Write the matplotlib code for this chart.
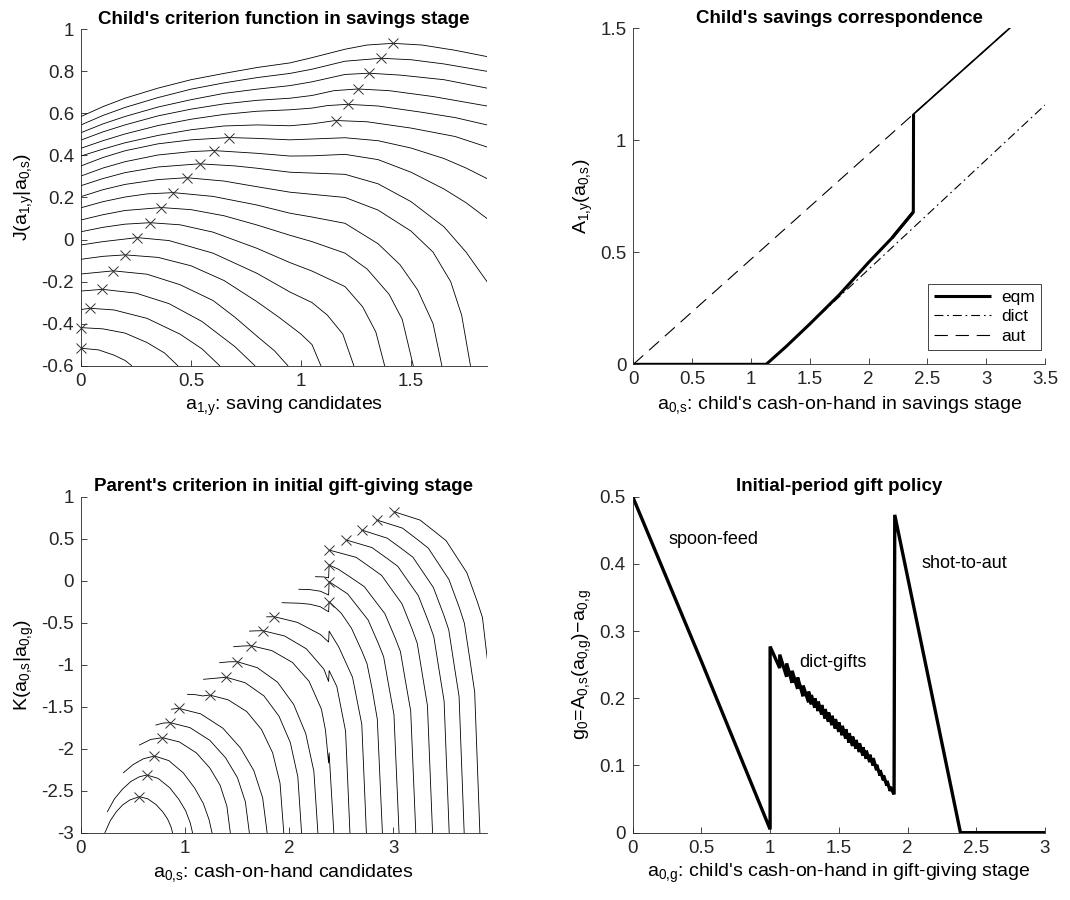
import numpy as np
import matplotlib.pyplot as plt
from matplotlib.ticker import FuncFormatter

plt.rcParams['font.family'] = ['Liberation Sans', 'DejaVu Sans']
plt.rcParams['mathtext.fontset'] = 'custom'
plt.rcParams['mathtext.rm'] = 'Liberation Sans'
plt.rcParams['axes.unicode_minus'] = False

AXC = '#262626'

# --- child's criterion J(a_1y | a_0s), one curve per a_0s ---
j_x = [
    [0, .1, .2, .35, .5, .65, .8, .95, 1.05, 1.2, 1.3, 1.417, 1.55, 1.7, 1.845],
    [0, .1, .2, .35, .5, .65, .8, .95, 1.05, 1.2, 1.364, 1.5, 1.65, 1.845],
    [0, .1, .2, .35, .5, .65, .8, .95, 1.05, 1.2, 1.308, 1.45, 1.65, 1.845],
    [0, .1, .2, .35, .5, .65, .8, .95, 1.05, 1.15, 1.258, 1.4, 1.6, 1.845],
    [0, .1, .2, .35, .5, .65, .8, .95, 1.05, 1.12, 1.212, 1.35, 1.55, 1.7, 1.845],
    [0, .1, .2, .35, .5, .65, .8, .95, 1.05, 1.157, 1.3, 1.5, 1.7, 1.845],
    [0, .1, .2, .35, .5, .671, .8, .95, 1.05, 1.2, 1.35, 1.5, 1.65, 1.75, 1.845],
    [0, .1, .2, .35, .5, .603, .8, .95, 1.05, 1.2, 1.35, 1.5, 1.65, 1.75, 1.845],
    [0, .1, .2, .35, .539, .7, .8, .95, 1.05, 1.2, 1.35, 1.5, 1.65, 1.75, 1.845],
    [0, .1, .2, .35, .48, .65, .8, .95, 1.05, 1.2, 1.35, 1.5, 1.6, 1.68, 1.73, 1.77],
    [0, .1, .2, .3, .42, .6, .8, .95, 1.05, 1.2, 1.35, 1.45, 1.53, 1.6, 1.64],
    [0, .1, .2, .365, .5, .65, .8, .95, 1.05, 1.2, 1.3, 1.4, 1.46, 1.51],
    [0, .1, .2, .314, .45, .6, .8, .95, 1.05, 1.2, 1.28, 1.34, 1.38],
    [0, .1, .256, .4, .6, .8, .95, 1.05, 1.12, 1.19, 1.24],
    [0, .1, .2, .35, .5, .65, .8, .9, 1.0, 1.05, 1.09],
    [0, .147, .3, .45, .6, .7, .8, .88, .94],
    [0, .097, .25, .4, .55, .7, .79],
    [0, .041, .15, .3, .45, .55, .63],
    [0, .1, .2, .3, .38, .44],
    [0, .08, .15, .2, .23],
]
j_y = [
    [.585, .632, .672, .72, .76, .79, .818, .84, .865, .905, .925, .933, .925, .9, .87],
    [.545, .59, .628, .675, .715, .745, .77, .79, .81, .848, .862, .855, .835, .80],
    [.508, .55, .585, .63, .665, .695, .715, .732, .75, .785, .791, .782, .76, .72],
    [.473, .512, .545, .588, .62, .645, .662, .672, .685, .708, .716, .708, .68, .635],
    [.434, .47, .502, .542, .572, .595, .61, .617, .625, .637, .643, .635, .605, .58, .545],
    [.397, .43, .46, .495, .522, .54, .545, .541, .55, .566, .56, .53, .49, .44],
    [.35, .39, .422, .455, .474, .485, .481, .474, .478, .484, .47, .435, .385, .34, .29],
    [.302, .34, .37, .402, .418, .423, .41, .397, .398, .405, .38, .32, .24, .175, .10],
    [.256, .29, .318, .345, .36, .35, .339, .32, .316, .31, .265, .18, .06, -.06, -.2],
    [.204, .237, .262, .285, .294, .278, .251, .225, .215, .2, .14, .04, -.06, -.2, -.36, -.6],
    [.151, .18, .202, .217, .223, .205, .164, .125, .107, .077, -.02, -.12, -.24, -.4, -.6],
    [.093, .118, .138, .152, .142, .113, .069, .02, -.01, -.065, -.14, -.26, -.38, -.6],
    [.037, .058, .073, .08, .07, .035, -.042, -.11, -.15, -.224, -.32, -.44, -.6],
    [-.026, -.01, .009, -.005, -.065, -.161, -.25, -.3, -.36, -.45, -.6],
    [-.094, -.08, -.073, -.085, -.125, -.195, -.296, -.37, -.45, -.5, -.6],
    [-.164, -.149, -.165, -.215, -.29, -.37, -.46, -.53, -.6],
    [-.245, -.237, -.255, -.305, -.39, -.51, -.6],
    [-.333, -.327, -.335, -.375, -.45, -.52, -.6],
    [-.419, -.425, -.445, -.49, -.54, -.6],
    [-.517, -.525, -.55, -.575, -.6],
]
j_peak_x = [1.417, 1.364, 1.308, 1.258, 1.212, 1.157, .671, .603, .539, .48,
            .42, .365, .314, .256, .2, .147, .097, .041, 0, 0]
j_peak_y = [.933, .862, .791, .716, .643, .566, .485, .423, .36, .294,
            .223, .152, .08, .009, -.073, -.149, -.237, -.327, -.419, -.517]

# --- savings correspondence (jump at index 7 -> 8) ---
eqm_x = [0, 1.13, 1.3, 1.5, 1.75, 2.0, 2.2, 2.38, 2.382, 3.5]
eqm_y = [0, 0, .08, .18, .31, .455, .565, .68, 1.117, 1.642]
dict_x = [1.134, 3.5]
dict_y = [0, 1.158]
aut_x = [0, 3.5]
aut_y = [0, 1.642]

# --- parent's criterion K(a_0s | a_0g), one curve per a_0g ---
k_x = [
    [.23, .28, .34, .4, .47, .562, .642, .721, .785, .832, .864, .88],
    [.254, .32, .4, .48, .56, .632, .742, .852, .94, 1.006, 1.05, 1.072],
    [.408, .5, .6, .706, .844, .983, 1.093, 1.176, 1.231, 1.259],
    [.562, .67, .783, .946, 1.109, 1.239, 1.337, 1.402, 1.435],
    [.72, .79, .857, 1.047, 1.238, 1.39, 1.504, 1.58, 1.618],
    [.87, .938, 1.151, 1.364, 1.534, 1.661, 1.746, 1.789],
    [1.024, 1.1, 1.17, 1.236, 1.414, 1.593, 1.735, 1.842, 1.913, 1.949],
    [1.178, 1.3, 1.397, 1.578, 1.759, 1.903, 2.012, 2.084, 2.12],
    [1.333, 1.42, 1.5, 1.694, 1.889, 2.044, 2.16, 2.238, 2.277],
    [1.468, 1.55, 1.635, 1.834, 2.033, 2.192, 2.311, 2.35, 2.38, 2.385, 2.43],
    [1.62, 1.68, 1.747, 1.957, 2.166, 2.334, 2.38, 2.385, 2.459, 2.543, 2.585],
    [1.785, 1.859, 2.08, 2.301, 2.38, 2.385, 2.478, 2.61, 2.699, 2.743],
    [1.933, 2.1, 2.2, 2.3, 2.38, 2.385, 2.501, 2.6, 2.699, 2.749, 2.798, 2.848, 2.897],
    [2.094, 2.2, 2.3, 2.38, 2.385, 2.463, 2.562, 2.661, 2.76, 2.859, 2.909, 2.958, 3.008, 3.057],
    [2.254, 2.33, 2.38, 2.385, 2.476, 2.624, 2.723, 2.822, 2.921, 3.02, 3.07, 3.119, 3.169, 3.218],
    [2.385, 2.645, 2.792, 2.89, 2.987, 3.085, 3.183, 3.232, 3.281, 3.33, 3.379],
    [2.55, 2.797, 2.946, 3.045, 3.143, 3.242, 3.341, 3.391, 3.44, 3.49, 3.539],
    [2.697, 2.944, 3.091, 3.19, 3.289, 3.387, 3.486, 3.535, 3.584, 3.634, 3.683],
    [2.842, 3.09, 3.239, 3.338, 3.437, 3.536, 3.636, 3.685, 3.735, 3.784, 3.834],
    [3.009, 3.259, 3.409, 3.509, 3.609, 3.709, 3.809, 3.859, 3.908],
]
k_y = [
    [-3, -2.86, -2.75, -2.67, -2.61, -2.571, -2.597, -2.665, -2.751, -2.837, -2.927, -3],
    [-2.75, -2.6, -2.48, -2.39, -2.335, -2.313, -2.354, -2.464, -2.602, -2.739, -2.883, -3],
    [-2.286, -2.19, -2.12, -2.087, -2.142, -2.288, -2.47, -2.653, -2.845, -3],
    [-1.956, -1.89, -1.869, -1.92, -2.05, -2.231, -2.435, -2.683, -3],
    [-1.718, -1.695, -1.69, -1.749, -1.9, -2.109, -2.345, -2.633, -3],
    [-1.53, -1.519, -1.586, -1.756, -1.993, -2.26, -2.585, -3],
    [-1.353, -1.357, -1.372, -1.361, -1.418, -1.558, -1.771, -2.049, -2.41, -3],
    [-1.174, -1.16, -1.15, -1.215, -1.372, -1.613, -1.927, -2.334, -3],
    [-.976, -.966, -.964, -1.035, -1.208, -1.473, -1.819, -2.267, -3],
    [-.786, -.778, -.774, -.832, -.974, -1.197, -1.53, -1.78, -2.17, -2.05, -3],
    [-.6, -.597, -.595, -.658, -.811, -1.052, -1.2, -1.07, -1.26, -1.79, -3],
    [-.43, -.429, -.496, -.64, -.73, -.6, -.79, -1.15, -1.71, -3],
    [-.262, -.268, -.28, -.31, -.37, -.25, -.386, -.566, -.836, -.987, -1.287, -1.648, -3],
    [-.102, -.106, -.125, -.17, -.012, -.075, -.156, -.312, -.468, -.75, -.906, -1.25, -1.593, -3],
    [.048, .045, .035, .187, .135, .013, -.071, -.232, -.393, -.682, -.843, -1.197, -1.551, -3],
    [.365, .278, .15, .062, -.106, -.274, -.577, -.745, -1.116, -1.486, -3],
    [.485, .394, .262, .171, -.003, -.177, -.491, -.665, -1.048, -1.432, -3],
    [.604, .506, .373, .28, .099, -.081, -.405, -.585, -.982, -1.378, -3],
    [.723, .626, .485, .388, .202, .016, -.319, -.506, -.915, -1.325, -3],
    [.821, .722, .576, .477, .286, .095, -.249, -.44, -.96],
]
k_peak_x = [.562, .632, .706, .783, .857, .938, 1.236, 1.397, 1.5, 1.635,
            1.747, 1.859, 2.385, 2.385, 2.385, 2.385, 2.55, 2.697, 2.842, 3.009]
k_peak_y = [-2.571, -2.313, -2.087, -1.869, -1.69, -1.519, -1.361, -1.15, -.964, -.774,
            -.595, -.429, -.25, -.012, .187, .365, .485, .604, .723, .821]

# --- initial-period gift policy ---
spoon_x = [0, .5, 1.0]
spoon_y = [.5, .255, .005]
# saw teeth of the dict-gifts branch: position, low point, high point
tooth_x = [1.0, 1.07, 1.12, 1.16, 1.2, 1.24, 1.28,
           1.3, 1.325, 1.35, 1.375, 1.4, 1.425, 1.45, 1.475, 1.5, 1.525,
           1.55, 1.575, 1.6, 1.625, 1.65, 1.675, 1.7, 1.725, 1.75, 1.775,
           1.8, 1.825, 1.85, 1.875]
tooth_bot = [.005, .245, .232, .223, .214, .203, .194,
             .191, .186, .181, .176, .170, .165, .160, .155, .150, .145,
             .140, .134, .129, .125, .120, .115, .110, .105, .100, .093,
             .085, .078, .070, .062]
tooth_top = [.277, .265, .252, .241, .231, .219, .210,
             .205, .200, .195, .190, .184, .179, .174, .169, .164, .159,
             .154, .148, .143, .138, .133, .127, .122, .116, .111, .101,
             .093, .085, .077, .068]
shot_x = [1.902, 1.907, 2.385, 3.0]
shot_y = [.057, .473, 0, 0]


def fmt(v, pos):
    return '%g' % round(v, 6)


def style(ax):
    for s in ['top', 'right']:
        ax.spines[s].set_visible(False)
    for s in ['left', 'bottom']:
        ax.spines[s].set_color(AXC)
        ax.spines[s].set_linewidth(0.6)
    ax.tick_params(direction='in', length=4, width=0.6, colors=AXC,
                   labelsize=13.5, pad=5)
    ax.xaxis.set_major_formatter(FuncFormatter(fmt))
    ax.yaxis.set_major_formatter(FuncFormatter(fmt))


TFS = 13.5
LFS = 14

fig = plt.figure(figsize=(10.7, 9), dpi=100)
ax1 = fig.add_axes([0.0757, 0.5937, 0.3794, 0.3738])
ax2 = fig.add_axes([0.5919, 0.5952, 0.3848, 0.3733])
ax3 = fig.add_axes([0.0757, 0.0748, 0.3792, 0.3733])
ax4 = fig.add_axes([0.5913, 0.0748, 0.3853, 0.3733])

# top left
for xs, ys in zip(j_x, j_y):
    ax1.plot(xs, ys, color='k', lw=0.6)
ax1.plot(j_peak_x, j_peak_y, 'x', color='#333333', ms=7, mew=0.7, clip_on=False)
ax1.set_xlim(0, 1.845)
ax1.set_ylim(-0.6, 1)
ax1.set_xticks([0, 0.5, 1, 1.5])
ax1.set_yticks(np.arange(-0.6, 1.01, 0.2))
ax1.set_title("Child's criterion function in savings stage",
              fontsize=TFS, fontweight='bold', pad=4)
ax1.set_xlabel(r'$\mathregular{a_{1{,}y}}$: saving candidates', fontsize=LFS)
ax1.set_ylabel(r'$\mathregular{J(a_{1{,}y}|a_{0{,}s})}$', fontsize=LFS)
style(ax1)

# top right
ax2.plot(eqm_x[:8], eqm_y[:8], color='k', lw=2.2, label='eqm',
         solid_capstyle='butt')
ax2.plot(eqm_x[6:9], eqm_y[6:9], color='k', lw=2.2, solid_capstyle='butt')
ax2.plot(eqm_x[8:], eqm_y[8:], color='k', lw=1.2)
ax2.plot(dict_x, dict_y, color='k', lw=0.8, dashes=(8, 3.5, 1.5, 3.5),
         label='dict')
ax2.plot(aut_x, aut_y, color='k', lw=0.8, dashes=(12, 7), label='aut')
ax2.set_xlim(0, 3.5)
ax2.set_ylim(0, 1.5)
ax2.set_xticks(np.arange(0, 3.51, 0.5))
ax2.set_yticks([0, 0.5, 1, 1.5])
ax2.set_title("Child's savings correspondence",
              fontsize=TFS, fontweight='bold', pad=4)
ax2.set_xlabel(r"$\mathregular{a_{0{,}s}}$: child's cash-on-hand in savings stage",
               fontsize=LFS)
ax2.set_ylabel(r'$\mathregular{A_{1{,}y}(a_{0{,}s})}$', fontsize=LFS)
leg = ax2.legend(loc='lower right', bbox_to_anchor=(0.991, 0.043),
                 borderaxespad=0, fontsize=12.5, handlelength=3.3,
                 fancybox=False, framealpha=1, labelspacing=0.25,
                 handletextpad=0.6, borderpad=0.35)
leg.get_frame().set_edgecolor(AXC)
leg.get_frame().set_linewidth(0.6)
style(ax2)

# bottom left
for xs, ys in zip(k_x, k_y):
    ax3.plot(xs, ys, color='k', lw=0.6)
ax3.plot(k_peak_x, k_peak_y, 'x', color='#333333', ms=7, mew=0.7)
ax3.set_xlim(0, 3.9)
ax3.set_ylim(-3, 1)
ax3.set_xticks([0, 1, 2, 3])
ax3.set_yticks(np.arange(-3, 1.01, 0.5))
ax3.set_title("Parent's criterion in initial gift-giving stage",
              fontsize=TFS, fontweight='bold', pad=4)
ax3.set_xlabel(r'$\mathregular{a_{0{,}s}}$: cash-on-hand candidates', fontsize=LFS)
ax3.set_ylabel(r'$\mathregular{K(a_{0{,}s}|a_{0{,}g})}$', fontsize=LFS)
style(ax3)

# bottom right: build the gift path from its pieces
gx = list(spoon_x)
gy = list(spoon_y)
for tx, tb, tt in zip(tooth_x, tooth_bot, tooth_top):
    gx += [tx, tx]
    gy += [tb, tt]
gx += shot_x
gy += shot_y
ax4.plot(gx, gy, color='k', lw=2.4, solid_joinstyle='miter')
ax4.text(0.26, 0.436, 'spoon-feed', fontsize=13, va='center')
ax4.text(1.213, 0.254, 'dict-gifts', fontsize=13, va='center')
ax4.text(2.103, 0.401, 'shot-to-aut', fontsize=13, va='center')
ax4.set_xlim(0, 3)
ax4.set_ylim(0, 0.5)
ax4.set_xticks(np.arange(0, 3.01, 0.5))
ax4.set_yticks(np.arange(0, 0.51, 0.1))
ax4.set_title('Initial-period gift policy', fontsize=TFS, fontweight='bold', pad=4)
ax4.set_xlabel(r"$\mathregular{a_{0{,}g}}$: child's cash-on-hand in gift-giving stage",
               fontsize=LFS)
ax4.set_ylabel(r'$\mathregular{g_0\!=\!A_{0{,}s}(a_{0{,}g})\!-\!a_{0{,}g}}$',
               fontsize=LFS)
style(ax4)

fig.savefig('out.png', dpi=100)
